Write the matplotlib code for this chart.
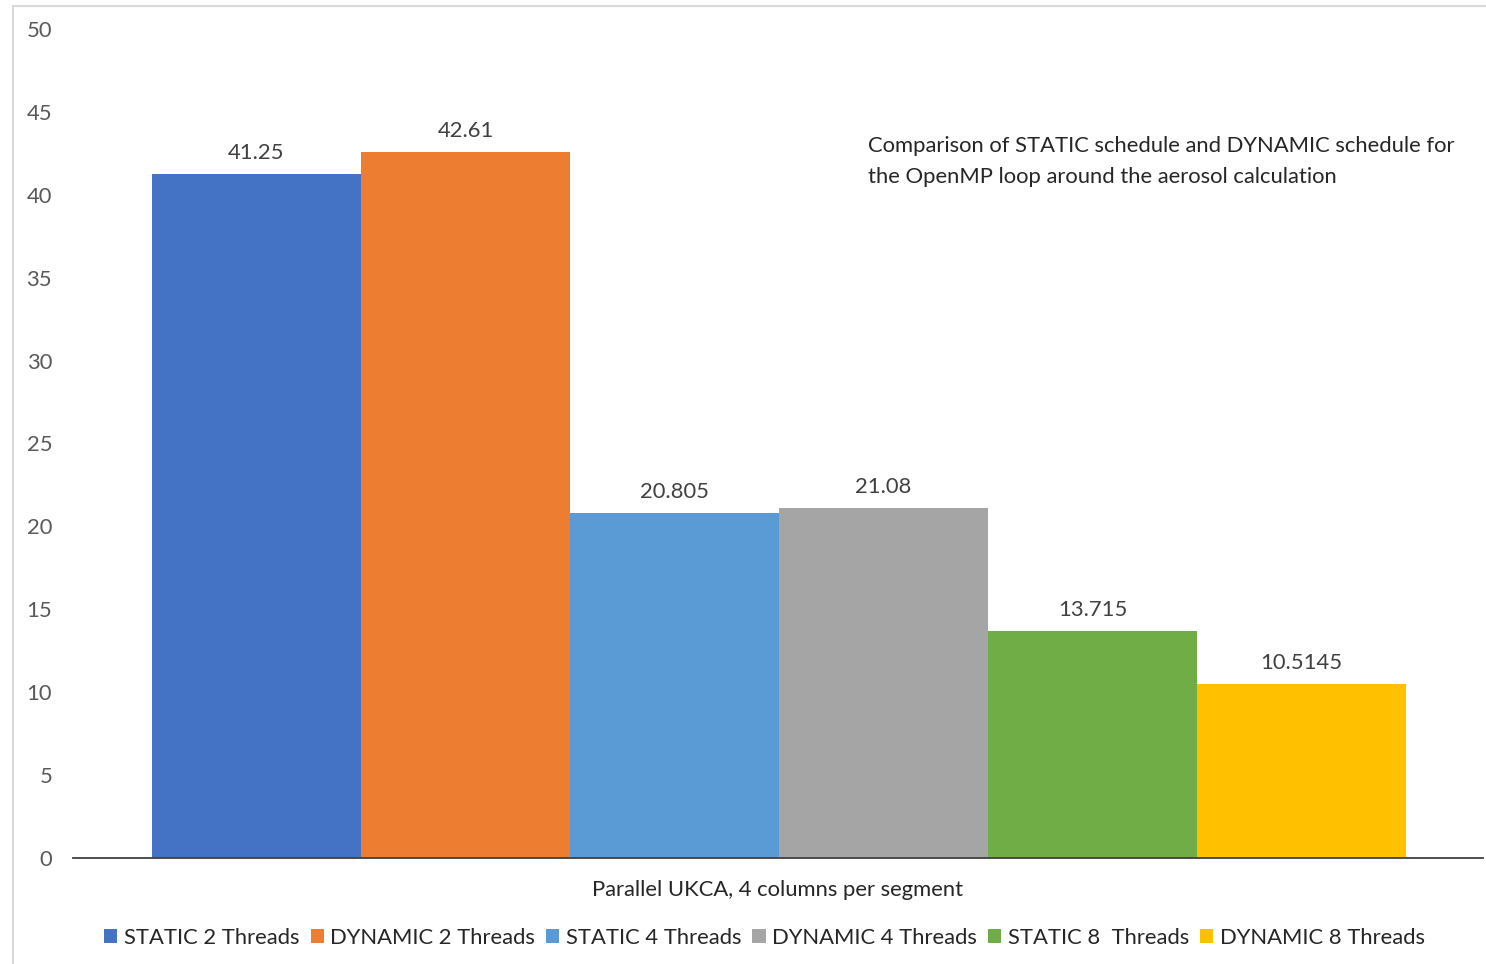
import numpy as np
import matplotlib.pyplot as plt
from matplotlib.lines import Line2D
from matplotlib.patches import Patch

plt.rcParams['font.family'] = ['Lato', 'DejaVu Sans']

series = ["STATIC 2 Threads", "DYNAMIC 2 Threads", "STATIC 4 Threads",
          "DYNAMIC 4 Threads", "STATIC 8  Threads", "DYNAMIC 8 Threads"]
valores = [41.25, 42.61, 20.805, 21.08, 13.715, 10.5145]
etiquetas = ["41.25", "42.61", "20.805", "21.08", "13.715", "10.5145"]
colores = ["#4472C4", "#ED7D31", "#5B9BD5", "#A5A5A5", "#70AD47", "#FFC000"]
categoria = "Parallel UKCA, 4 columns per segment"
nota = ("Comparison of STATIC schedule and DYNAMIC schedule for\n"
        "the OpenMP loop around the aerosol calculation")

FS = 15.8
W, H = 1486, 964
fig = plt.figure(figsize=(W / 100, H / 100), dpi=100)
ax = fig.add_axes([73 / W, 1 - 858 / H, (1483 - 73) / W, (858 - 29) / H])

x = np.arange(len(valores))
barras = ax.bar(x, valores, width=1.0, color=colores, label=series)
for b, t in zip(barras, etiquetas):
    ax.annotate(t, (b.get_x() + b.get_width() / 2, b.get_height()),
                xytext=(0, 11), textcoords='offset pixels', ha='center', va='bottom',
                fontsize=FS, color='#404040')

ax.set_xlim(-0.878, 5.868)
ax.set_ylim(0, 50)
ax.set_yticks(np.arange(0, 51, 5))
ax.set_xticks([])
ax.tick_params(axis='y', length=0, pad=15, labelsize=FS, labelcolor='#595959')
for s in ['top', 'right', 'left']:
    ax.spines[s].set_visible(False)
ax.spines['bottom'].set_color('#404040')
ax.spines['bottom'].set_linewidth(1.3)

ax.set_xlabel(categoria, fontsize=FS, color='#262626', labelpad=16)

ax.text(868 / W, 1 - 161.5 / H, nota, transform=fig.transFigure, ha='left', va='center',
        fontsize=FS, color='#262626', linespacing=1.66)

handles = [Patch(facecolor=c, edgecolor='none') for c in colores]
fig.legend(handles, series, loc='center', bbox_to_anchor=(764.5 / W, 1 - 938 / H), ncol=6,
           frameon=False, fontsize=FS, handlelength=0.6, handleheight=0.6,
           handletextpad=0.3, columnspacing=0.5, labelcolor='#262626')

# marco del grafico
fig.add_artist(Line2D([13 / W, 13 / W], [0, 1 - 6 / H], transform=fig.transFigure,
                      color='#d9d9d9', lw=1.5))
fig.add_artist(Line2D([13 / W, 1], [1 - 6 / H, 1 - 6 / H], transform=fig.transFigure,
                      color='#d9d9d9', lw=1.5))

fig.savefig('out.png', dpi=100)
